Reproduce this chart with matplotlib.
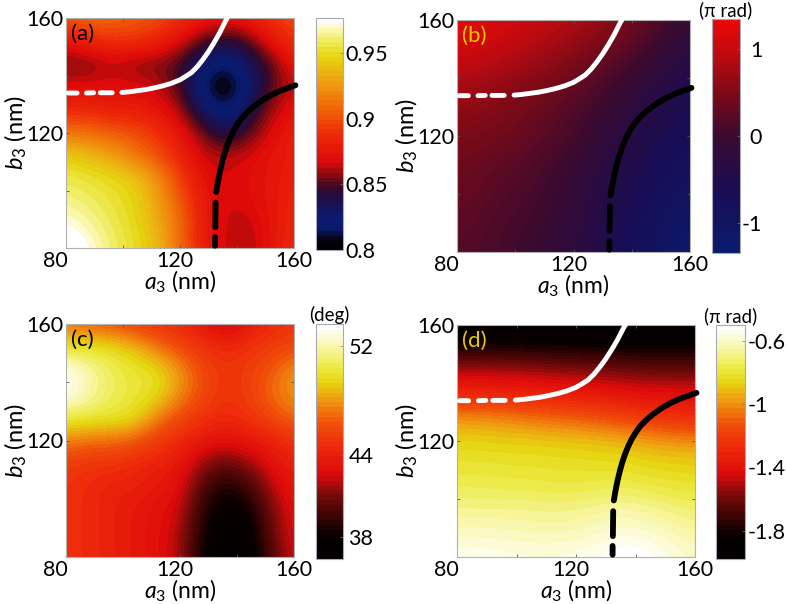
import numpy as np
import matplotlib
matplotlib.use('Agg')
import matplotlib.pyplot as plt
from matplotlib.colors import LinearSegmentedColormap, Normalize
from matplotlib.transforms import ScaledTranslation

plt.rcParams['font.family'] = ['Lato', 'DejaVu Sans']
plt.rcParams['mathtext.fontset'] = 'custom'
plt.rcParams['mathtext.rm'] = 'Lato'
plt.rcParams['mathtext.it'] = 'Lato:italic'

a3 = [80, 88, 96, 104, 112, 120, 128, 136, 144, 152, 160]
b3 = [160, 152, 144, 136, 128, 120, 112, 104, 96, 88, 80]

panel_a = [
    [.905, .91, .91, .905, .90, .89, .88, .875, .88, .89, .90],
    [.875, .885, .89, .89, .885, .87, .85, .84, .85, .875, .89],
    [.852, .853, .862, .856, .853, .848, .825, .815, .83, .85, .875],
    [.87, .87, .87, .87, .865, .85, .815, .795, .825, .85, .865],
    [.885, .885, .88, .88, .875, .862, .83, .815, .835, .86, .875],
    [.915, .91, .905, .90, .89, .875, .855, .835, .85, .87, .88],
    [.945, .94, .93, .915, .90, .885, .865, .865, .868, .875, .88],
    [.958, .955, .95, .945, .925, .895, .872, .865, .87, .875, .88],
    [.965, .96, .955, .948, .93, .905, .878, .865, .87, .875, .885],
    [.975, .968, .958, .95, .935, .91, .878, .865, .862, .875, .885],
    [.985, .975, .962, .952, .94, .91, .88, .865, .86, .875, .888],
]
panel_b = [
    [1.3, 1.25, 1.15, 1.05, .95, .85, .7, .5, .3, .1, -.1],
    [1.15, 1.1, 1.0, .9, .8, .65, .5, .35, .15, -.05, -.25],
    [.95, .9, .8, .7, .6, .45, .3, .15, -.05, -.25, -.4],
    [.75, .7, .6, .5, .4, .3, .15, -.05, -.2, -.4, -.55],
    [.6, .55, .5, .4, .3, .15, 0, -.15, -.35, -.5, -.65],
    [.5, .45, .4, .3, .2, .1, -.1, -.3, -.45, -.6, -.75],
    [.4, .35, .3, .2, .1, 0, -.2, -.4, -.55, -.7, -.85],
    [.35, .3, .2, .15, .05, -.1, -.3, -.5, -.65, -.8, -.95],
    [.3, .25, .15, .1, 0, -.15, -.35, -.55, -.75, -.9, -1.05],
    [.25, .2, .1, .05, -.05, -.2, -.4, -.6, -.8, -1.0, -1.15],
    [.2, .15, .1, 0, -.1, -.25, -.45, -.65, -.85, -1.05, -1.2],
]
panel_c = [
    [47, 46.5, 46, 45.5, 45, 44.5, 43.5, 42, 43.5, 44.5, 45],
    [50, 50, 49.8, 48.8, 47.3, 46, 45, 44.5, 45, 45.5, 46],
    [53.5, 52, 50.8, 50.2, 49.8, 48, 46, 45, 45.5, 46.5, 48],
    [53.5, 52, 50.8, 50.2, 49.8, 47.8, 46, 45, 45.5, 47, 48],
    [50.5, 50.3, 50.2, 49.8, 47.5, 46, 45, 44.5, 45, 46, 47],
    [47.5, 47, 47, 46.5, 45.5, 44.5, 43.5, 43, 43.5, 44, 45],
    [45.5, 45, 45, 44.5, 44, 43.5, 41.5, 40.5, 41.5, 43, 44],
    [45, 44.5, 44, 44, 43.5, 43, 40, 38.5, 39.5, 42, 43.5],
    [45, 44.5, 44, 43.5, 43, 42.5, 39, 37.5, 38, 41, 43],
    [45, 44.5, 44, 43.5, 43, 42, 38.5, 37, 37.5, 40.5, 43],
    [45, 44.5, 44, 43.5, 43, 42, 38, 36.7, 37, 40, 42.5],
]
panel_d = [
    [-1.95, -1.95, -1.95, -1.95, -1.95, -1.95, -1.95, -1.95, -1.95, -1.95, -1.95],
    [-1.78, -1.78, -1.78, -1.79, -1.8, -1.8, -1.8, -1.82, -1.82, -1.82, -1.82],
    [-1.48, -1.48, -1.5, -1.5, -1.52, -1.54, -1.56, -1.58, -1.6, -1.6, -1.6],
    [-1.3, -1.3, -1.3, -1.32, -1.33, -1.34, -1.36, -1.38, -1.4, -1.4, -1.4],
    [-.98, -1.0, -1.02, -1.05, -1.08, -1.1, -1.14, -1.18, -1.22, -1.26, -1.28],
    [-.86, -.86, -.87, -.87, -.88, -.89, -.9, -.92, -.96, -.98, -.99],
    [-.8, -.8, -.81, -.81, -.82, -.82, -.83, -.83, -.85, -.86, -.87],
    [-.75, -.75, -.76, -.76, -.77, -.77, -.76, -.75, -.77, -.79, -.8],
    [-.68, -.68, -.68, -.68, -.69, -.68, -.66, -.64, -.66, -.69, -.72],
    [-.6, -.6, -.61, -.62, -.62, -.62, -.59, -.56, -.58, -.62, -.65],
    [-.53, -.53, -.54, -.55, -.55, -.54, -.52, -.49, -.5, -.55, -.6],
]

white_a = [80.8, 83.9, None, 87.2, 89.7, None, 92, 96.2, None, 99.6, 102, 105, 108, 111, 114, 117, 120, 122, 124,
           126, 128, 130, 132, 134, 136, 136.6]
white_b = [133.9, 133.9, None, 133.9, 134, None, 134, 134, None, 134.1, 134.3, 134.7, 135.1, 135.7, 136.4, 137.3,
           138.5, 139.7, 141, 143, 145.5, 148.3, 151.5, 155, 159, 160]
black_a = [132.3, 132.3, None, 132.4, 132.5, None, 132.7, 132.8, 133.3, 134, 134.7, 135.5, 136.5, 137.7, 138.8,
           140, 141.5, 143, 144.5, 146, 149, 152, 155, 158, 160.5]
black_b = [80.8, 83.8, None, 87.2, 95.8, None, 99.5, 100, 103, 106.5, 109.5, 112.5, 115.5, 118.5, 120.8,
           122.8, 125, 126.6, 128, 129.3, 131.5, 133.2, 134.6, 135.7, 136.6]

hot_stops = [(0, '#000000'), (.1, '#0a0000'), (.27, '#7a0a0a'), (.36, '#dd0a0a'), (.48, '#ee2a0a'),
             (.58, '#f0500a'), (.68, '#f09a10'), (.76, '#e6d510'), (.82, '#ecea40'), (.9, '#f8f6a0'),
             (1, '#ffffff')]
navy_hot_stops = [(0, '#000000'), (.04, '#05051a'), (.09, '#0a1a70'), (.14, '#0d1a6e'), (.2, '#1a1050'),
                  (.26, '#35082a'), (.31, '#7a0a10'), (.38, '#dd0a0a'), (.5, '#ee2a08'), (.62, '#f06a08'),
                  (.72, '#f09a10'), (.84, '#e6d510'), (.9, '#eeea50'), (.96, '#fbf8b0'), (1, '#ffffff')]
phase_stops = [(0, '#0a1a6e'), (.25, '#180d55'), (.5, '#3a0a30'), (.68, '#7a0a18'), (.86, '#c00a10'),
               (1, '#e80808')]

W, H = 787, 604
BANDS = 48


def px_axes(x0, y0, x1, y1):
    return fig.add_axes([x0 / W, 1 - y1 / H, (x1 - x0) / W, (y1 - y0) / H])


def panel(box, cbox, data, stops, vmin, vmax, cticks, clabels, tag, tagcolor, unit, curves,
          ch='left', cpad=2):
    ax = px_axes(*box)
    cmap = LinearSegmentedColormap.from_list('m', stops, N=BANDS)
    step = a3[1] - a3[0]
    im = ax.imshow(np.array(data, float), extent=(a3[0] - step / 2, a3[-1] + step / 2,
                                                  b3[-1] - step / 2, b3[0] + step / 2),
                   origin='upper', aspect='auto', cmap=cmap, norm=Normalize(vmin, vmax),
                   interpolation='bicubic', interpolation_stage='data')
    ax.set_xlim(80, 160)
    ax.set_ylim(80, 160)
    if curves:
        xw = np.array(white_a, float)
        yw = np.array(white_b, float)
        xb = np.array(black_a, float)
        yb = np.array(black_b, float)
        ax.plot(xw, yw, color='white', lw=3.5, solid_capstyle='round', clip_on=False, zorder=4)
        ax.plot(xb, yb, color='black', lw=4.2, solid_capstyle='round', clip_on=False, zorder=4)
    ax.set_xticks([80, 120, 160])
    ax.set_xticklabels(['80', '120', '160'])
    ax.set_yticks([120, 160])
    ax.set_yticklabels(['120', '160'])
    ax.set_xticks([100, 140], minor=True)
    ax.set_yticks([100, 140], minor=True)
    ax.tick_params(which='both', direction='in', length=2, width=.6, color='#555555',
                   top=True, right=True, labelsize=15.5, pad=2, labelcolor='black')
    for lab, dx in zip(ax.get_xticklabels(), [-11, -5, 0]):
        lab.set_transform(lab.get_transform() + ScaledTranslation(dx / 100, 0, fig.dpi_scale_trans))
    for s in ax.spines.values():
        s.set_color('#b0b0b0')
        s.set_linewidth(.8)
    ax.set_xlabel('$a_3$ (nm)', fontsize=16.5, labelpad=-1.5)
    ax.set_ylabel('$b_3$ (nm)', fontsize=17, labelpad=-2)
    ax.text(.02, .975, tag, transform=ax.transAxes, ha='left', va='top', fontsize=16, color=tagcolor)

    cax = px_axes(*cbox)
    fig.colorbar(im, cax=cax, ticks=cticks)
    cax.set_yticklabels(clabels)
    cax.tick_params(length=2, width=.5, direction='in', color='#777777', labelsize=15.5, pad=cpad)
    if ch == 'right':
        for lab in cax.get_yticklabels():
            lab.set_ha('right')
    for s in cax.spines.values():
        s.set_color('#a8a8b8')
        s.set_linewidth(.8)
    if unit:
        cax.text(.5, 1.0, unit, transform=cax.transAxes, ha='center', va='bottom', fontsize=13.5)


fig = plt.figure(figsize=(W / 100, H / 100), dpi=100)

panel((66, 18, 294, 248), (316, 18, 343, 250), panel_a, navy_hot_stops, .8, .977,
      [.8, .85, .9, .95], ['0.8', '0.85', '0.9', '0.95'], '(a)', 'black', None, True)
panel((457, 20, 690, 252), (712, 19, 740, 253), panel_b, phase_stops, -1.35, 1.35,
      [-1, 0, 1], ['-1', '0', '1'], '(b)', '#e8c800', '(π rad)', True, ch='right', cpad=16)
panel((66, 324, 294, 557), (316, 324, 343, 559), panel_c, hot_stops, 36.4, 53.6,
      [38, 44, 52], ['38', '44', '52'], '(c)', 'black', '(deg)', False, cpad=4)
panel((457, 325, 695, 557), (716, 325, 745, 559), panel_d, hot_stops, -1.98, -.5,
      [-1.8, -1.4, -1, -.6], ['-1.8', '-1.4', '-1', '-0.6'], '(d)', '#e8c800', '(π rad)', True)

fig.savefig('out.png', dpi=100)
